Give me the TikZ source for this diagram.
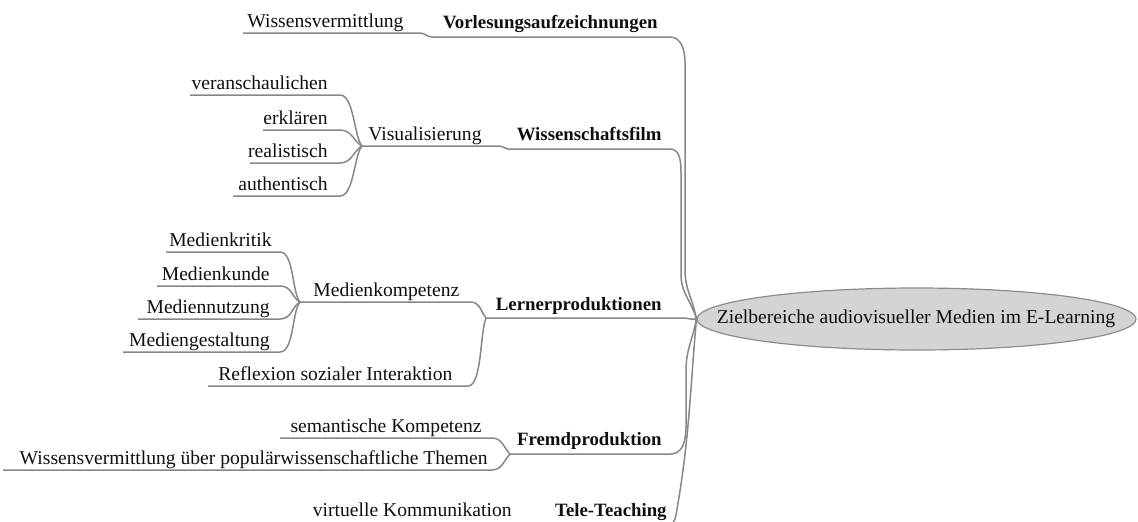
\documentclass[tikz,border=0pt]{standalone}
\usepackage{fontspec}
\setmainfont{Liberation Serif}
\usetikzlibrary{shapes.geometric}
\definecolor{linegray}{RGB}{135,135,135}
\definecolor{ellfill}{RGB}{212,212,212}
\definecolor{ellline}{RGB}{140,140,140}
\definecolor{textcol}{RGB}{15,15,15}
\begin{document}
\begin{tikzpicture}[x=0.5pt,y=-0.5pt,
  br/.style={draw=linegray, line width=0.75pt},
  lbl/.style={inner sep=0pt, text=textcol, font=\fontsize{9.8}{11}\selectfont},
  bl/.style={inner sep=0pt, text=textcol, font=\fontsize{9.4}{11}\selectfont\bfseries}]
\useasboundingbox (0,0) rectangle (1138,521);
\clip (0,0) rectangle (1138,521);

% root
\node[ellipse, draw=ellline, fill=ellfill, line width=0.6pt, minimum width=219.5pt, minimum height=31pt, inner sep=0pt] (root) at (916.5,319) {};
\node[lbl, anchor=base] (roottext) at (916,323) {Zielbereiche audiovisueller Medien im E-Learning};
\coordinate (H) at (root.west);

% labels
\node[bl, anchor=base east] (vorl) at (658,28) {Vorlesungsaufzeichnungen};
\node[lbl, anchor=base west] (wv1) at (247,27) {Wissensvermittlung};
\node[bl, anchor=base east] (wf) at (662,140) {Wissenschaftsfilm};
\node[lbl, anchor=base west] (vis) at (368,140) {Visualisierung};
\node[lbl, anchor=base east] (vera) at (328,89) {veranschaulichen};
\node[lbl, anchor=base east] (erkl) at (328,124) {erklären};
\node[lbl, anchor=base east] (real) at (328,157) {realistisch};
\node[lbl, anchor=base east] (auth) at (328,190) {authentisch};
\node[bl, anchor=base east] (lern) at (662,310) {Lernerproduktionen};
\node[lbl, anchor=base west] (mk) at (313,296) {Medienkompetenz};
\node[lbl, anchor=base east] (mkrit) at (272,246) {Medienkritik};
\node[lbl, anchor=base east] (mkun) at (270,280) {Medienkunde};
\node[lbl, anchor=base east] (mnutz) at (270,313) {Mediennutzung};
\node[lbl, anchor=base east] (mgest) at (270,346) {Mediengestaltung};
\node[lbl, anchor=base west] (refl) at (218,380) {Reflexion sozialer Interaktion};
\node[bl, anchor=base east] (fremd) at (662,445) {Fremdproduktion};
\node[lbl, anchor=base east] (sem) at (482,432) {semantische Kompetenz};
\node[lbl, anchor=base east] (wv2) at (488,464) {Wissensvermittlung über populärwissenschaftliche Themen};
\node[bl, anchor=base east] (tele) at (667,516) {Tele-Teaching};
\node[lbl, anchor=base east] (virt) at (512,516) {virtuelle Kommunikation};

% underline end points
\coordinate (vorl-l) at (432,37);  \coordinate (vorl-r) at (670,37);
\coordinate (wv1-l) at (243,33);   \coordinate (wv1-r) at (420,33);
\coordinate (wf-l) at (508,149);   \coordinate (wf-r) at (670,149);
\coordinate (vis-l) at (362,146);  \coordinate (vis-r) at (500,146);
\coordinate (vera-l) at (190,95);  \coordinate (vera-r) at (340,95);
\coordinate (erkl-l) at (263,130); \coordinate (erkl-r) at (340,130);
\coordinate (real-l) at (250,163); \coordinate (real-r) at (340,163);
\coordinate (auth-l) at (233,196); \coordinate (auth-r) at (340,196);
\coordinate (lern-l) at (486,318); \coordinate (lern-r) at (683,318);
\coordinate (mk-l) at (300,302);   \coordinate (mk-r) at (470,302);
\coordinate (mkrit-l) at (166,252);\coordinate (mkrit-r) at (280,252);
\coordinate (mkun-l) at (157,286); \coordinate (mkun-r) at (280,286);
\coordinate (mnutz-l) at (138,319);\coordinate (mnutz-r) at (280,319);
\coordinate (mgest-l) at (123,352);\coordinate (mgest-r) at (280,352);
\coordinate (refl-l) at (208,386); \coordinate (refl-r) at (468,386);
\coordinate (fremd-l) at (510,454);\coordinate (fremd-r) at (670,454);
\coordinate (sem-l) at (280,438);  \coordinate (sem-r) at (492,438);
\coordinate (wv2-l) at (3,470);    \coordinate (wv2-r) at (492,470);
\coordinate (tele-l) at (545,525); \coordinate (tele-r) at (668,525);
\coordinate (virt-l) at (320,525); \coordinate (virt-r) at (535,525);

% trunk
\draw[br] (vorl-l) -- (vorl-r) to[out=0,in=90] (685,62) -- (685,270) to[out=-90,in=100] (H);
\draw[br] (wf-l) -- (wf-r) to[out=0,in=90] (681,175) -- (681,275) to[out=-90,in=105] (H);
\draw[br] (lern-l) -- (lern-r) to[out=0,in=190] (H);
\draw[br] (fremd-l) -- (fremd-r) to[out=0,in=-90] (686,410) -- (686,370) to[out=90,in=-100] (H);
\draw[br] (tele-l) -- (tele-r) to[out=0,in=-100] (676,515) to[out=80,in=-95] (H);

% level 2 -> level 1
\draw[br] (wv1-l) -- (wv1-r) to[out=0,in=180] (vorl-l);
\draw[br] (vis-l) -- (vis-r) to[out=0,in=180] (wf-l);
\draw[br] (mk-l) -- (mk-r) .. controls +(10,0) and +(-6,-8) .. (lern-l);
\draw[br] (refl-l) -- (refl-r) .. controls +(14,0) and +(-6,14) .. (lern-l);
\draw[br] (sem-l) -- (sem-r) .. controls +(10,0) and +(-6,-6) .. (fremd-l);
\draw[br] (wv2-l) -- (wv2-r) .. controls +(10,0) and +(-6,6) .. (fremd-l);
\draw[br] (virt-l) -- (virt-r) to[out=0,in=180] (tele-l);

% level 3 -> level 2
\draw[br] (vera-l) -- (vera-r) .. controls +(14,0) and +(-8,-9) .. (vis-l);
\draw[br] (erkl-l) -- (erkl-r) .. controls +(12,0) and +(-8,-4) .. (vis-l);
\draw[br] (real-l) -- (real-r) .. controls +(12,0) and +(-8,4) .. (vis-l);
\draw[br] (auth-l) -- (auth-r) .. controls +(14,0) and +(-8,9) .. (vis-l);
\draw[br] (mkrit-l) -- (mkrit-r) .. controls +(14,0) and +(-8,-9) .. (mk-l);
\draw[br] (mkun-l) -- (mkun-r) .. controls +(12,0) and +(-8,-4) .. (mk-l);
\draw[br] (mnutz-l) -- (mnutz-r) .. controls +(12,0) and +(-8,4) .. (mk-l);
\draw[br] (mgest-l) -- (mgest-r) .. controls +(14,0) and +(-8,9) .. (mk-l);
\end{tikzpicture}
\end{document}
